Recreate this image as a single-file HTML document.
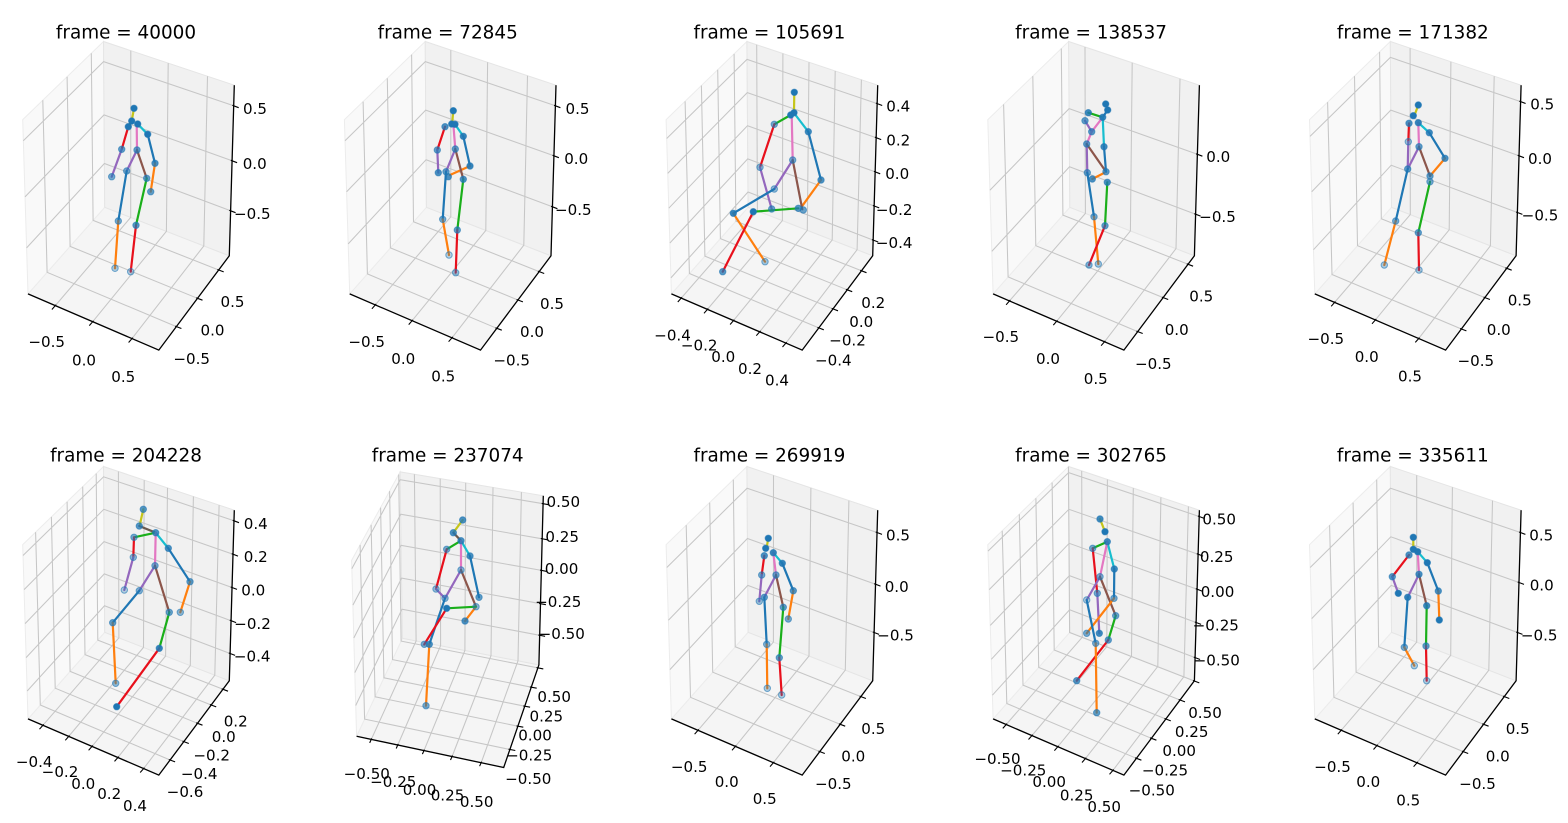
<!DOCTYPE html>
<html>
<head>
<meta charset="utf-8">
<style>
html,body{margin:0;padding:0;background:#fff;}
svg{display:block;}
.t{font-family:"DejaVu Sans","Liberation Sans",sans-serif;font-size:15.1px;fill:#000;text-anchor:middle;}
.ti{font-family:"DejaVu Sans","Liberation Sans",sans-serif;font-size:18.4px;fill:#000;text-anchor:middle;}
.sk path{fill:none;stroke-width:2.2;stroke-linecap:round;}
.mk circle{fill:#1f77b4;stroke:#1f77b4;stroke-width:1;stroke-opacity:0.6;}
.fl{fill:#f5f5f5;stroke:#ebebeb;stroke-width:1;}
.xp{fill:#f9f9f9;stroke:#ececec;stroke-width:1;}
.yp{fill:#f1f1f1;stroke:#e5e5e5;stroke-width:1;}
.gr{fill:none;stroke:#c6c6c6;stroke-width:1.05;}
.ax{fill:none;stroke:#000;stroke-width:1.3;stroke-linejoin:miter;}
.tk{fill:none;stroke:#000;stroke-width:1.1;}
</style>
</head>
<body>
<svg xmlns="http://www.w3.org/2000/svg" xmlns:xlink="http://www.w3.org/1999/xlink" width="1568" height="823" viewBox="0 0 1568 823">
<defs>
<g id="panes">
<polygon class="fl" points="-102.2,103.4 28.6,159.6 99.1,65.3 -25.5,16.8"/>
<polygon class="xp" points="-102.2,103.4 -25.5,16.8 -26.7,-149 -107.5,-70.8"/>
<polygon class="yp" points="-25.5,16.8 99.1,65.3 104.1,-105.3 -26.7,-149"/>
</g>
<path id="axl" class="ax" d="M-102.2 103.4L28.6 159.6L99.1 65.3L104.1 -105.3"/>
</defs>
<rect width="1568" height="823" fill="#fff"/>

<!-- panel 1 -->
<g transform="translate(130.2 190.5)">
<use href="#panes" xlink:href="#panes"/>
<path class="gr" d="M-74.9 115.1L0.5 26.9L0.6 -139.9M-37.5 131.2L36.2 40.8L38 -127.4M1.8 148.1L73.6 55.4L77.3 -114.3M46.2 136.1L-83.1 81.8L-87.4 -90.3M67.3 107.8L-60.1 55.9L-63.1 -113.7M88.5 79.5L-37.1 29.9L-38.9 -137.2M100.4 20.3L-25.8 -27L-103.6 57.4M101.9 -29.7L-26.2 -75.6L-105.2 6.4M103.5 -84.7L-26.6 -128.9L-106.9 -49.7"/>
<use href="#axl" xlink:href="#axl"/>
<path class="tk" d="M-74.9 115.1m0.8 -0.9l-4.2 4.8M-37.5 131.2m0.8 -0.9l-4.2 4.8M1.8 148.1m0.8 -0.9l-4.2 4.8M46.2 136.1m-1.3 -0.5l6.3 2.4M67.3 107.8m-1.3 -0.5l6.3 2.4M88.5 79.5m-1.3 -0.5l6.3 2.4M100.4 20.3m-1.3 -0.5l6.3 2.4M101.9 -29.7m-1.3 -0.5l6.3 2.4M103.5 -84.7m-1.3 -0.5l6.3 2.4"/>
</g>
<!-- panel 2 -->
<g transform="translate(451.9 190.5)">
<use href="#panes" xlink:href="#panes"/>
<path class="gr" d="M-76.6 114.4L-1.1 26.3L-1.1 -140.4M-39.8 130.2L33.9 39.9L35.7 -128.2M0.1 147.3L71.9 54.7L75.6 -114.8M44.9 137.8L-84.5 83.4L-88.8 -88.9M66 109.5L-61.5 57.4L-64.6 -112.3M87.3 81.1L-38.4 31.3L-40.3 -135.9M100.5 16.3L-25.8 -30.8L-103.7 53.4M102 -34.7L-26.2 -80.4L-105.3 1.3M103.5 -84.7L-26.6 -128.9L-106.9 -49.7"/>
<use href="#axl" xlink:href="#axl"/>
<path class="tk" d="M-76.6 114.4m0.8 -0.9l-4.2 4.8M-39.8 130.2m0.8 -0.9l-4.2 4.8M0.1 147.3m0.8 -0.9l-4.2 4.8M44.9 137.8m-1.3 -0.5l6.3 2.4M66 109.5m-1.3 -0.5l6.3 2.4M87.3 81.1m-1.3 -0.5l6.3 2.4M100.5 16.3m-1.3 -0.5l6.3 2.4M102 -34.7m-1.3 -0.5l6.3 2.4M103.5 -84.7m-1.3 -0.5l6.3 2.4"/>
</g>
<!-- panel 3 -->
<g transform="translate(773.6 190.5)">
<use href="#panes" xlink:href="#panes"/>
<path class="gr" d="M-92.4 107.6L-16.2 20.4L-16.9 -145.7M-66.2 118.9L8.8 30.1L9.3 -137M-40.1 130.1L33.7 39.8L35.4 -128.2M-13.9 141.3L58.6 49.5L61.6 -119.5M12.3 152.6L83.5 59.2L87.8 -110.8M45.2 137.4L-84.2 83L-88.5 -89.2M59.4 118.4L-68.7 65.6L-72.2 -105M73.6 99.3L-53.2 48.1L-55.9 -120.8M87.9 80.3L-37.7 30.6L-39.5 -136.6M99.6 49.6L-25.6 1.5L-102.7 87.4M100.6 15.5L-25.9 -31.6L-103.7 52.5M101.6 -18.6L-26.1 -64.8L-104.8 17.7M102.6 -52.8L-26.3 -97.9L-105.9 -17.1M103.6 -86.9L-26.6 -131.1L-106.9 -52"/>
<use href="#axl" xlink:href="#axl"/>
<path class="tk" d="M-92.4 107.6m0.8 -0.9l-4.2 4.8M-66.2 118.9m0.8 -0.9l-4.2 4.8M-40.1 130.1m0.8 -0.9l-4.2 4.8M-13.9 141.3m0.8 -0.9l-4.2 4.8M12.3 152.6m0.8 -0.9l-4.2 4.8M45.2 137.4m-1.3 -0.5l6.3 2.4M59.4 118.4m-1.3 -0.5l6.3 2.4M73.6 99.3m-1.3 -0.5l6.3 2.4M87.9 80.3m-1.3 -0.5l6.3 2.4M99.6 49.6m-1.3 -0.5l6.3 2.4M100.6 15.5m-1.3 -0.5l6.3 2.4M101.6 -18.6m-1.3 -0.5l6.3 2.4M102.6 -52.8m-1.3 -0.5l6.3 2.4M103.6 -86.9m-1.3 -0.5l6.3 2.4"/>
</g>
<!-- panel 4 -->
<g transform="translate(1095.3 190.5)">
<use href="#panes" xlink:href="#panes"/>
<path class="gr" d="M-85.8 110.4L-9.9 22.9L-10.3 -143.5M-38.6 130.7L35.1 40.4L36.9 -127.8M9.2 151.3L80.7 58.1L84.7 -111.8M42.4 141.1L-87.2 86.4L-91.7 -86.1M67.9 107.1L-59.5 55.2L-62.5 -114.4M92.8 73.8L-32.4 24.6L-34 -142M100.3 23.7L-25.8 -23.7L-103.5 60.9M102.1 -36.2L-26.2 -81.9L-105.4 -0.2"/>
<use href="#axl" xlink:href="#axl"/>
<path class="tk" d="M-85.8 110.4m0.8 -0.9l-4.2 4.8M-38.6 130.7m0.8 -0.9l-4.2 4.8M9.2 151.3m0.8 -0.9l-4.2 4.8M42.4 141.1m-1.3 -0.5l6.3 2.4M67.9 107.1m-1.3 -0.5l6.3 2.4M92.8 73.8m-1.3 -0.5l6.3 2.4M100.3 23.7m-1.3 -0.5l6.3 2.4M102.1 -36.2m-1.3 -0.5l6.3 2.4"/>
</g>
<!-- panel 5 -->
<g transform="translate(1417 190.5)">
<use href="#panes" xlink:href="#panes"/>
<path class="gr" d="M-82.4 111.9L-6.7 24.1L-6.9 -142.4M-41.6 129.4L32.2 39.3L33.9 -128.8M1.7 148L73.4 55.3L77.2 -114.3M44.4 138.5L-85 84L-89.4 -88.3M67.9 107.1L-59.5 55.2L-62.5 -114.4M89.7 77.8L-35.7 28.3L-37.4 -138.6M100.4 22L-25.8 -25.3L-103.5 59.2M102 -34.7L-26.2 -80.4L-105.3 1.3M103.6 -88.9L-26.6 -133.1L-107 -54.1"/>
<use href="#axl" xlink:href="#axl"/>
<path class="tk" d="M-82.4 111.9m0.8 -0.9l-4.2 4.8M-41.6 129.4m0.8 -0.9l-4.2 4.8M1.7 148m0.8 -0.9l-4.2 4.8M44.4 138.5m-1.3 -0.5l6.3 2.4M67.9 107.1m-1.3 -0.5l6.3 2.4M89.7 77.8m-1.3 -0.5l6.3 2.4M100.4 22m-1.3 -0.5l6.3 2.4M102 -34.7m-1.3 -0.5l6.3 2.4M103.6 -88.9m-1.3 -0.5l6.3 2.4"/>
</g>
<!-- panel 6 -->
<g transform="translate(130.2 615.5)">
<use href="#panes" xlink:href="#panes"/>
<path class="gr" d="M-87.3 109.8L-11.3 22.3L-11.8 -144M-61.5 120.9L13.3 31.9L14 -135.4M-38.2 130.9L35.4 40.5L37.3 -127.6M-12.3 142L60.1 50.1L63.2 -119M13.4 153.1L84.6 59.7L88.9 -110.4M39.9 144.5L-89.9 89.5L-94.6 -83.3M53.6 126.1L-75 72.7L-78.8 -98.6M67.3 107.8L-60.1 55.9L-63.1 -113.7M81 89.5L-45.2 39.1L-47.5 -128.9M92.8 73.8L-32.4 24.6L-34 -142M99.9 38L-25.7 -9.7L-103 75.5M100.9 5.2L-25.9 -41.6L-104.1 42.1M101.8 -28L-26.2 -73.9L-105.1 8.1M102.8 -61.3L-26.4 -106.2L-106.1 -25.9M103.8 -94.7L-26.6 -138.7L-107.2 -60"/>
<use href="#axl" xlink:href="#axl"/>
<path class="tk" d="M-87.3 109.8m0.8 -0.9l-4.2 4.8M-61.5 120.9m0.8 -0.9l-4.2 4.8M-38.2 130.9m0.8 -0.9l-4.2 4.8M-12.3 142m0.8 -0.9l-4.2 4.8M13.4 153.1m0.8 -0.9l-4.2 4.8M39.9 144.5m-1.3 -0.5l6.3 2.4M53.6 126.1m-1.3 -0.5l6.3 2.4M67.3 107.8m-1.3 -0.5l6.3 2.4M81 89.5m-1.3 -0.5l6.3 2.4M92.8 73.8m-1.3 -0.5l6.3 2.4M99.9 38m-1.3 -0.5l6.3 2.4M100.9 5.2m-1.3 -0.5l6.3 2.4M101.8 -28m-1.3 -0.5l6.3 2.4M102.8 -61.3m-1.3 -0.5l6.3 2.4M103.8 -94.7m-1.3 -0.5l6.3 2.4"/>
</g>
<!-- panel 7 (rotated view) -->
<g transform="translate(450.4 615.5)">
<polygon class="fl" points="-93.8,120.8 53.3,152 88.5,49.4 -48,22.8"/>
<polygon class="xp" points="-93.8,120.8 -48,22.8 -50.3,-143.6 -98.8,-55.1"/>
<polygon class="yp" points="-48,22.8 88.5,49.4 92.9,-119.7 -50.3,-143.6"/>
<path class="gr" d="M-79.1 123.9L-34.3 25.5L-36 -141.2M-52.6 129.5L-9.8 30.2L-10.2 -136.9M-26.4 135.1L14.5 35L15.3 -132.7M1.7 141L40.6 40.1L42.6 -128.1M30.8 147.2L67.6 45.3L71 -123.4M59.5 134L-85.8 103.6L-90.3 -70.6M67.5 110.7L-75.3 81.3L-79.3 -90.8M74.3 90.7L-66.5 62.3L-69.8 -107.9M80.9 71.7L-57.9 44.1L-60.8 -124.4M87.5 52.4L-49.3 25.6L-51.7 -141M89.3 19.8L-48.4 -6.3L-94.7 90M90.1 -11.8L-48.8 -37.4L-95.6 57.1M91 -45.1L-49.3 -70.2L-96.6 22.5M91.8 -76.7L-49.7 -101.3L-97.5 -10.4M92.7 -111.8L-50.2 -135.8L-98.6 -46.8"/>
<path class="ax" d="M-93.8 120.8L53.3 152L88.5 49.4L92.9 -119.7"/>
<path class="tk" d="M-79.1 123.9m0.4 -1l-2 4.5M-52.6 129.5m0.4 -1l-2 4.5M-26.4 135.1m0.4 -1l-2 4.5M1.7 141m0.4 -1l-2 4.5M30.8 147.2m0.4 -1l-2 4.5M59.5 134m-1.4 -0.3l6.8 1.3M67.5 110.7m-1.4 -0.3l6.8 1.3M74.3 90.7m-1.4 -0.3l6.8 1.3M80.9 71.7m-1.4 -0.3l6.8 1.3M87.5 52.4m-1.4 -0.3l6.8 1.3M89.3 19.8m-1.4 -0.3l6.8 1.3M90.1 -11.8m-1.4 -0.3l6.8 1.3M91 -45.1m-1.4 -0.3l6.8 1.3M91.8 -76.7m-1.4 -0.3l6.8 1.3M92.7 -111.8m-1.4 -0.3l6.8 1.3"/>
</g>
<!-- panel 8 -->
<g transform="translate(773.6 615.5)">
<use href="#panes" xlink:href="#panes"/>
<path class="gr" d="M-75.6 114.8L-0.2 26.6L-0.1 -140.1M-38.2 130.9L35.4 40.5L37.3 -127.6M-0.2 147.2L71.7 54.6L75.3 -114.9M46.2 136.1L-83.1 81.8L-87.4 -90.3M66.6 108.8L-60.9 56.7L-63.9 -112.9M87.3 81.1L-38.4 31.3L-40.3 -135.9M100.5 17L-25.8 -30.1L-103.7 54.1M101.9 -31.3L-26.2 -77L-105.2 4.8M103.4 -83L-26.5 -127.3L-106.8 -48"/>
<use href="#axl" xlink:href="#axl"/>
<path class="tk" d="M-75.6 114.8m0.8 -0.9l-4.2 4.8M-38.2 130.9m0.8 -0.9l-4.2 4.8M-0.2 147.2m0.8 -0.9l-4.2 4.8M46.2 136.1m-1.3 -0.5l6.3 2.4M66.6 108.8m-1.3 -0.5l6.3 2.4M87.3 81.1m-1.3 -0.5l6.3 2.4M100.5 17m-1.3 -0.5l6.3 2.4M101.9 -31.3m-1.3 -0.5l6.3 2.4M103.4 -83m-1.3 -0.5l6.3 2.4"/>
</g>
<!-- panel 9 -->
<g transform="translate(1095.3 615.5)">
<use href="#panes" xlink:href="#panes"/>
<path class="gr" d="M-89.1 109L-13 21.7L-13.6 -144.6M-63.4 120.1L11.5 31.2L12.1 -136M-37.5 131.2L36.2 40.8L38 -127.4M-9.9 143.1L62.5 51L65.6 -118.1M17.6 154.9L88.6 61.2L93.1 -109M41.1 142.8L-88.5 88L-93.1 -84.7M56.1 122.8L-72.3 69.6L-76 -101.3M70.5 103.5L-56.6 51.9L-59.4 -117.3M84.7 84.5L-41.1 34.5L-43.2 -133M99 65.5L-25.7 17L-26.9 -148.8M99.8 42.1L-25.7 -5.7L-102.9 79.7M100.8 7L-25.9 -39.9L-104 43.8M101.8 -26.3L-26.1 -72.2L-105 9.9M102.8 -61.3L-26.4 -106.2L-106.1 -25.9M103.9 -99L-26.7 -142.9L-107.3 -64.4"/>
<use href="#axl" xlink:href="#axl"/>
<path class="tk" d="M-89.1 109m0.8 -0.9l-4.2 4.8M-63.4 120.1m0.8 -0.9l-4.2 4.8M-37.5 131.2m0.8 -0.9l-4.2 4.8M-9.9 143.1m0.8 -0.9l-4.2 4.8M17.6 154.9m0.8 -0.9l-4.2 4.8M41.1 142.8m-1.3 -0.5l6.3 2.4M56.1 122.8m-1.3 -0.5l6.3 2.4M70.5 103.5m-1.3 -0.5l6.3 2.4M84.7 84.5m-1.3 -0.5l6.3 2.4M99 65.5m-1.3 -0.5l6.3 2.4M99.8 42.1m-1.3 -0.5l6.3 2.4M100.8 7m-1.3 -0.5l6.3 2.4M101.8 -26.3m-1.3 -0.5l6.3 2.4M102.8 -61.3m-1.3 -0.5l6.3 2.4M103.9 -99m-1.3 -0.5l6.3 2.4"/>
</g>
<!-- panel 10 -->
<g transform="translate(1417 615.5)">
<use href="#panes" xlink:href="#panes"/>
<path class="gr" d="M-75.8 114.8L-0.3 26.6L-0.3 -140.2M-40.1 130.1L33.7 39.8L35.4 -128.2M0 147.3L71.8 54.7L75.5 -114.9M46.2 136.1L-83.1 81.8L-87.4 -90.3M66.6 108.8L-60.9 56.7L-63.9 -112.9M87.3 81.1L-38.4 31.3L-40.3 -135.9M100.5 17L-25.8 -30.1L-103.7 54.1M102 -33L-26.2 -78.7L-105.3 3.1M103.4 -83L-26.5 -127.3L-106.8 -48"/>
<use href="#axl" xlink:href="#axl"/>
<path class="tk" d="M-75.8 114.8m0.8 -0.9l-4.2 4.8M-40.1 130.1m0.8 -0.9l-4.2 4.8M0 147.3m0.8 -0.9l-4.2 4.8M46.2 136.1m-1.3 -0.5l6.3 2.4M66.6 108.8m-1.3 -0.5l6.3 2.4M87.3 81.1m-1.3 -0.5l6.3 2.4M100.5 17m-1.3 -0.5l6.3 2.4M102 -33m-1.3 -0.5l6.3 2.4M103.4 -83m-1.3 -0.5l6.3 2.4"/>
</g>

<!-- titles -->
<text class="ti" x="126" y="38.4">frame = 40000</text>
<text class="ti" x="447.7" y="38.4">frame = 72845</text>
<text class="ti" x="769.4" y="38.4">frame = 105691</text>
<text class="ti" x="1091.1" y="38.4">frame = 138537</text>
<text class="ti" x="1412.8" y="38.4">frame = 171382</text>
<text class="ti" x="126" y="461.7">frame = 204228</text>
<text class="ti" x="447.7" y="461.7">frame = 237074</text>
<text class="ti" x="769.4" y="461.7">frame = 269919</text>
<text class="ti" x="1091.1" y="461.7">frame = 302765</text>
<text class="ti" x="1412.8" y="461.7">frame = 335611</text>

<!-- tick labels -->
<g>
<text class="t" x="46.7" y="347.2">−0.5</text><text class="t" x="84" y="365.5">0.0</text><text class="t" x="123.3" y="382.2">0.5</text>
<text class="t" x="191.7" y="363.8">−0.5</text><text class="t" x="212.5" y="335.5">0.0</text><text class="t" x="232.5" y="307.2">0.5</text>
<text class="t" x="252.3" y="218.8">−0.5</text><text class="t" x="254.7" y="168.8">0.0</text><text class="t" x="255" y="113.8">0.5</text>
</g>
<g>
<text class="t" x="366.7" y="347.2">−0.5</text><text class="t" x="403.3" y="363.8">0.0</text><text class="t" x="443.3" y="381.5">0.5</text>
<text class="t" x="511.7" y="365.5">−0.5</text><text class="t" x="532" y="337.2">0.0</text><text class="t" x="552" y="308.8">0.5</text>
<text class="t" x="573.3" y="214.8">−0.5</text><text class="t" x="576.2" y="163.8">0.0</text><text class="t" x="577.5" y="113.8">0.5</text>
</g>
<g>
<text class="t" x="672.5" y="340.5">−0.4</text><text class="t" x="699.2" y="350.5">−0.2</text><text class="t" x="723.3" y="362.2">0.0</text><text class="t" x="750" y="373.8">0.2</text><text class="t" x="777" y="385.5">0.4</text>
<text class="t" x="833.3" y="365.5">−0.4</text><text class="t" x="847.5" y="345.5">−0.2</text><text class="t" x="861.3" y="327.2">0.0</text><text class="t" x="873.3" y="308.2">0.2</text>
<text class="t" x="894.2" y="248.2">−0.4</text><text class="t" x="894.2" y="214.8">−0.2</text><text class="t" x="897.2" y="178.8">0.0</text><text class="t" x="898.3" y="145.5">0.2</text><text class="t" x="898.3" y="111.5">0.4</text>
</g>
<g>
<text class="t" x="1000.8" y="342.2">−0.5</text><text class="t" x="1048" y="363.8">0.0</text><text class="t" x="1095.8" y="383.8">0.5</text>
<text class="t" x="1153.3" y="368.8">−0.5</text><text class="t" x="1176.7" y="334.8">0.0</text><text class="t" x="1201.3" y="301.5">0.5</text>
<text class="t" x="1217.5" y="222.2">−0.5</text><text class="t" x="1218.3" y="162.2">0.0</text>
</g>
<g>
<text class="t" x="1325.8" y="343.8">−0.5</text><text class="t" x="1366.7" y="362.2">0.0</text><text class="t" x="1410" y="381.5">0.5</text>
<text class="t" x="1475.8" y="366.2">−0.5</text><text class="t" x="1498.8" y="334.8">0.0</text><text class="t" x="1519.7" y="305.5">0.5</text>
<text class="t" x="1540" y="220.5">−0.5</text><text class="t" x="1540" y="163.8">0.0</text><text class="t" x="1542.2" y="109.5">0.5</text>
</g>
<g>
<text class="t" x="34.2" y="767.2">−0.4</text><text class="t" x="60" y="777.2">−0.2</text><text class="t" x="83.3" y="788.8">0.0</text><text class="t" x="109.2" y="798.8">0.2</text><text class="t" x="135" y="811.2">0.4</text>
<text class="t" x="185" y="797.2">−0.6</text><text class="t" x="199.2" y="778.8">−0.4</text><text class="t" x="211.7" y="760.5">−0.2</text><text class="t" x="223.8" y="742.2">0.0</text><text class="t" x="235.7" y="726.5">0.2</text>
<text class="t" x="252.2" y="661.5">−0.4</text><text class="t" x="252.5" y="628.8">−0.2</text><text class="t" x="253.3" y="595.5">0.0</text><text class="t" x="255.8" y="562.2">0.2</text><text class="t" x="255.8" y="528.8">0.4</text>
</g>
<g>
<text class="t" x="366.8" y="778.8">−0.50</text><text class="t" x="393.3" y="787.2">−0.25</text><text class="t" x="419.5" y="794.8">0.00</text><text class="t" x="447.5" y="800.5">0.25</text><text class="t" x="476.7" y="807.2">0.50</text>
<text class="t" x="528.3" y="783.8">−0.50</text><text class="t" x="529.2" y="760.5">−0.25</text><text class="t" x="535" y="740.5">0.00</text><text class="t" x="546.3" y="721.5">0.25</text><text class="t" x="554.2" y="702.2">0.50</text>
<text class="t" x="561.7" y="638.8">−0.50</text><text class="t" x="558.3" y="607.2">−0.25</text><text class="t" x="561.5" y="573.8">0.00</text><text class="t" x="562.2" y="542.2">0.25</text><text class="t" x="563.3" y="507.2">0.50</text>
</g>
<g>
<text class="t" x="689.2" y="772.2">−0.5</text><text class="t" x="726.7" y="787.2">0.0</text><text class="t" x="764.7" y="803.8">0.5</text>
<text class="t" x="833.3" y="788.8">−0.5</text><text class="t" x="853.3" y="761.5">0.0</text><text class="t" x="873.3" y="733.8">0.5</text>
<text class="t" x="895.5" y="640.5">−0.5</text><text class="t" x="896.7" y="592.2">0.0</text><text class="t" x="898" y="540.5">0.5</text>
</g>
<g>
<text class="t" x="997.5" y="763.8">−0.50</text><text class="t" x="1023.3" y="775.5">−0.25</text><text class="t" x="1049.2" y="787.2">0.00</text><text class="t" x="1076.7" y="800.5">0.25</text><text class="t" x="1104.2" y="812.2">0.50</text>
<text class="t" x="1151.7" y="795.5">−0.50</text><text class="t" x="1165" y="775.5">−0.25</text><text class="t" x="1179.2" y="756.2">0.00</text><text class="t" x="1191.7" y="737.2">0.25</text><text class="t" x="1205" y="718.2">0.50</text>
<text class="t" x="1216.7" y="665.5">−0.50</text><text class="t" x="1215.8" y="630.5">−0.25</text><text class="t" x="1217.5" y="597.2">0.00</text><text class="t" x="1216.7" y="562.2">0.25</text><text class="t" x="1219.2" y="524.5">0.50</text>
</g>
<g>
<text class="t" x="1332.5" y="772.2">−0.5</text><text class="t" x="1368.3" y="787.2">0.0</text><text class="t" x="1408.3" y="805.5">0.5</text>
<text class="t" x="1477.5" y="788.8">−0.5</text><text class="t" x="1497.8" y="761.5">0.0</text><text class="t" x="1517.7" y="733.8">0.5</text>
<text class="t" x="1539.2" y="640.5">−0.5</text><text class="t" x="1541.7" y="590.5">0.0</text><text class="t" x="1541.3" y="540.5">0.5</text>
</g>

<!-- skeletons -->
<g class="sk">
<path stroke="#c5c51a" d="M134 108.3L131.7 121"/>
<path stroke="#1aaf1a" d="M131.7 121L128.3 126.7"/>
<path stroke="#17becf" d="M137.7 124L147.7 134.3"/>
<path stroke="#e8101c" d="M128.3 126.7L121.7 149.3"/>
<path stroke="#e377c2" d="M136.7 124L137 150"/>
<path stroke="#1f77b4" d="M147.7 134.3L155 163.3"/>
<path stroke="#ff7f0e" d="M155 163.3L150.7 191.7"/>
<path stroke="#9467bd" d="M121.7 149.3L111.7 176.7"/>
<path stroke="#9467bd" d="M137 150L126.7 171"/>
<path stroke="#8c564b" d="M137 150L146.7 178.3"/>
<path stroke="#1f77b4" d="M126.7 171L118.3 221"/>
<path stroke="#1aaf1a" d="M146.7 178.3L136 225.3"/>
<path stroke="#ff7f0e" d="M118.3 221L115 268.3"/>
<path stroke="#e8101c" d="M136 225.3L130.7 271.7"/>

<path stroke="#c5c51a" d="M453.3 110.7L452.3 122"/>
<path stroke="#e8101c" d="M445 126.7L437.3 150"/>
<path stroke="#e377c2" d="M453.3 124L455.3 149"/>
<path stroke="#17becf" d="M455 124.3L463.3 136.3"/>
<path stroke="#1f77b4" d="M463.3 136.3L470 166"/>
<path stroke="#ff7f0e" d="M470 166L450 175"/>
<path stroke="#9467bd" d="M437.3 150L438.3 172.7"/>
<path stroke="#9467bd" d="M455.3 149L446 171.7"/>
<path stroke="#8c564b" d="M455.3 149L463.3 179.3"/>
<path stroke="#1f77b4" d="M446 171.7L442.7 219.3"/>
<path stroke="#1aaf1a" d="M463.3 179.3L457.3 230"/>
<path stroke="#ff7f0e" d="M442.7 219.3L449 255"/>
<path stroke="#e8101c" d="M457.3 230L455.7 272.7"/>

<path stroke="#c5c51a" d="M794.3 92.3L794 112"/>
<path stroke="#1aaf1a" d="M790.7 115L774.3 124.3"/>
<path stroke="#17becf" d="M794 113L808.3 131.7"/>
<path stroke="#e377c2" d="M791.7 115L792.7 160"/>
<path stroke="#e8101c" d="M774.3 124.3L760 167.3"/>
<path stroke="#1f77b4" d="M808.3 131.7L821 180"/>
<path stroke="#ff7f0e" d="M821 180L801.7 206.7"/>
<path stroke="#9467bd" d="M760 167.3L771.7 209"/>
<path stroke="#9467bd" d="M792.7 160L774.3 189"/>
<path stroke="#8c564b" d="M792.7 160L802.3 209.3"/>
<path stroke="#1f77b4" d="M774.3 189L733.3 213.3"/>
<path stroke="#1aaf1a" d="M753.3 211.7L798.3 208.3"/>
<path stroke="#ff7f0e" d="M733.3 213.3L765 261.7"/>
<path stroke="#e8101c" d="M753.3 211.7L722.7 271.7"/>

<path stroke="#1aaf1a" d="M1088.3 112.7L1102.7 117.3"/>
<path stroke="#1f77b4" d="M1107.7 110L1102.7 117.3"/>
<path stroke="#e377c2" d="M1102.7 117.3L1091.7 131.7"/>
<path stroke="#9467bd" d="M1085 120.7L1091.7 131.7"/>
<path stroke="#e377c2" d="M1091.7 131.7L1086.7 144"/>
<path stroke="#17becf" d="M1102.7 117.3L1104 146.7"/>
<path stroke="#9467bd" d="M1086.7 144L1087.3 172.7"/>
<path stroke="#8c564b" d="M1086.7 144L1106 171.7"/>
<path stroke="#1f77b4" d="M1104 146.7L1106 171.7"/>
<path stroke="#ff7f0e" d="M1104 173L1092.3 179"/>
<path stroke="#1f77b4" d="M1087.3 172.7L1094 216.7"/>
<path stroke="#1aaf1a" d="M1107.3 182.3L1105 225.7"/>
<path stroke="#ff7f0e" d="M1094 216.7L1098.3 264"/>
<path stroke="#e8101c" d="M1105 225.7L1089 265"/>

<path stroke="#c5c51a" d="M1418.3 105L1415 114"/>
<path stroke="#17becf" d="M1418.3 122.7L1429.3 132.7"/>
<path stroke="#e8101c" d="M1409 123.3L1408.3 141.7"/>
<path stroke="#e377c2" d="M1418.3 122.7L1419 146.7"/>
<path stroke="#1f77b4" d="M1429.3 132.7L1445 158.3"/>
<path stroke="#ff7f0e" d="M1445 158.3L1430 176"/>
<path stroke="#9467bd" d="M1408.3 141.7L1407.7 169"/>
<path stroke="#9467bd" d="M1419 146.7L1407.7 169"/>
<path stroke="#8c564b" d="M1419 146.7L1430 176"/>
<path stroke="#1f77b4" d="M1407.7 169L1395.7 221"/>
<path stroke="#1aaf1a" d="M1430 181.7L1418.3 232.7"/>
<path stroke="#ff7f0e" d="M1395.7 221L1384.3 265"/>
<path stroke="#e8101c" d="M1418.3 232.7L1419 270"/>

<path stroke="#c5c51a" d="M143.3 509.3L140 524"/>
<path stroke="#6b5a50" d="M139.3 526L155.7 532.7"/>
<path stroke="#1aaf1a" d="M134 537.3L155.7 532.7"/>
<path stroke="#17becf" d="M155.7 532.7L168.3 548.3"/>
<path stroke="#e8101c" d="M134 537.3L133.3 557.3"/>
<path stroke="#e377c2" d="M155.7 532.7L155 565.7"/>
<path stroke="#1f77b4" d="M168.3 548.3L190 581.7"/>
<path stroke="#ff7f0e" d="M190 581.7L180.3 612.3"/>
<path stroke="#9467bd" d="M133.3 557.3L124.3 590"/>
<path stroke="#9467bd" d="M155 565.7L139.3 590.7"/>
<path stroke="#8c564b" d="M155 565.7L169.3 612.3"/>
<path stroke="#1f77b4" d="M139.3 590.7L112.7 622.7"/>
<path stroke="#1aaf1a" d="M169.3 612.3L159.3 648.3"/>
<path stroke="#ff7f0e" d="M112.7 622.7L115.7 683.3"/>
<path stroke="#e8101c" d="M159.3 648.3L116.7 706.7"/>

<path stroke="#c5c51a" d="M462.7 520L454 531.7"/>
<path stroke="#6b5a50" d="M453.3 532.7L461 540.7"/>
<path stroke="#1aaf1a" d="M446.7 549.3L461 540.7"/>
<path stroke="#17becf" d="M461 540.7L470 556"/>
<path stroke="#e377c2" d="M461 540.7L461 570"/>
<path stroke="#e8101c" d="M446.7 549.3L436 589"/>
<path stroke="#1f77b4" d="M470 556L479 597.3"/>
<path stroke="#9467bd" d="M461 570L445 598.3"/>
<path stroke="#8c564b" d="M461 570L476 606.7"/>
<path stroke="#ff7f0e" d="M476 606.7L465 621"/>
<path stroke="#1aaf1a" d="M446.7 608.3L476 606.7"/>
<path stroke="#9467bd" d="M436 589L445 598.3"/>
<path stroke="#1f77b4" d="M445 598.3L429.3 644.3"/>
<path stroke="#e8101c" d="M446.7 608.3L424.3 644.3"/>
<path stroke="#ff7f0e" d="M429.3 644.3L426 705.7"/>

<path stroke="#c5c51a" d="M768.3 538.3L766.7 547.3"/>
<path stroke="#17becf" d="M773.3 552.7L782.3 563.3"/>
<path stroke="#e8101c" d="M764.3 555.7L761.7 575"/>
<path stroke="#e377c2" d="M773.3 552.7L776 575"/>
<path stroke="#1f77b4" d="M782.3 563.3L793.3 590.7"/>
<path stroke="#ff7f0e" d="M793.3 590.7L788.3 619"/>
<path stroke="#9467bd" d="M761.7 575L759.3 601.3"/>
<path stroke="#9467bd" d="M776 575L764.3 597.3"/>
<path stroke="#8c564b" d="M776 575L783.3 607.3"/>
<path stroke="#1f77b4" d="M764.3 597.3L766.7 644.3"/>
<path stroke="#1aaf1a" d="M783.3 607.3L779.3 657.7"/>
<path stroke="#ff7f0e" d="M766.7 644.3L767.3 688.3"/>
<path stroke="#e8101c" d="M779.3 657.7L781.7 695"/>

<path stroke="#c5c51a" d="M1100 519L1105 531.7"/>
<path stroke="#1aaf1a" d="M1092.7 548.3L1107.3 541.7"/>
<path stroke="#17becf" d="M1107.3 541.7L1114.3 569"/>
<path stroke="#e377c2" d="M1107.3 541.7L1100 576.7"/>
<path stroke="#e8101c" d="M1092.7 548.3L1097.3 593.3"/>
<path stroke="#1f77b4" d="M1114.3 569L1114 598.3"/>
<path stroke="#9467bd" d="M1100 576.7L1086.7 600"/>
<path stroke="#9467bd" d="M1097.3 593.3L1099.3 633.3"/>
<path stroke="#8c564b" d="M1100 576.7L1115.7 615.7"/>
<path stroke="#ff7f0e" d="M1114 598.3L1086.7 633.3"/>
<path stroke="#1aaf1a" d="M1115.7 615.7L1108.3 640"/>
<path stroke="#1f77b4" d="M1086.7 600L1095.7 643.3"/>
<path stroke="#e8101c" d="M1108.3 640L1076.7 680.7"/>
<path stroke="#ff7f0e" d="M1095.7 643.3L1096.7 712.7"/>

<path stroke="#c5c51a" d="M1413.3 537.3L1413.3 548"/>
<path stroke="#17becf" d="M1417.7 551.7L1427.3 562.7"/>
<path stroke="#e8101c" d="M1409 555L1392.3 576.7"/>
<path stroke="#e377c2" d="M1417.7 551.7L1419 574.3"/>
<path stroke="#1f77b4" d="M1427.3 562.7L1438.3 591"/>
<path stroke="#ff7f0e" d="M1438.3 591L1439.3 620"/>
<path stroke="#9467bd" d="M1392.3 576.7L1398.3 593.3"/>
<path stroke="#9467bd" d="M1419 574.3L1407.7 597.3"/>
<path stroke="#8c564b" d="M1419 574.3L1426.7 605.7"/>
<path stroke="#1f77b4" d="M1407.7 597.3L1404.3 647.3"/>
<path stroke="#1aaf1a" d="M1426.7 605.7L1426 646"/>
<path stroke="#ff7f0e" d="M1404.3 647.3L1414.3 665.7"/>
<path stroke="#e8101c" d="M1426 646L1426.7 680.7"/>
</g>

<!-- joint markers -->
<g class="mk">
<circle cx="134" cy="108.3" r="3.2" fill-opacity="1"/><circle cx="131.7" cy="121" r="3.2" fill-opacity="1"/><circle cx="137.7" cy="124" r="3.2" fill-opacity="1"/><circle cx="128.3" cy="126.7" r="3.2" fill-opacity="1"/><circle cx="147.7" cy="134.3" r="3.2" fill-opacity="1"/><circle cx="121.7" cy="149.3" r="3.2" fill-opacity=".7"/><circle cx="137" cy="150" r="3.2" fill-opacity=".7"/><circle cx="155" cy="163.3" r="3.2" fill-opacity=".8"/><circle cx="111.7" cy="176.7" r="3.2" fill-opacity=".6"/><circle cx="126.7" cy="171" r="3.2" fill-opacity=".6"/><circle cx="146.7" cy="178.3" r="3.2" fill-opacity=".7"/><circle cx="150.7" cy="191.7" r="3.2" fill-opacity=".7"/><circle cx="118.3" cy="221" r="3.2" fill-opacity=".6"/><circle cx="136" cy="225.3" r="3.2" fill-opacity=".75"/><circle cx="115" cy="268.3" r="3.2" fill-opacity=".35"/><circle cx="130.7" cy="271.7" r="3.2" fill-opacity=".35"/>
<circle cx="453.3" cy="110.7" r="3.2" fill-opacity="1"/><circle cx="451.7" cy="124" r="3.2" fill-opacity="1"/><circle cx="455" cy="124.3" r="3.2" fill-opacity="1"/><circle cx="445" cy="126.7" r="3.2" fill-opacity=".8"/><circle cx="463.3" cy="136.3" r="3.2" fill-opacity=".9"/><circle cx="437.3" cy="150" r="3.2" fill-opacity=".7"/><circle cx="455.3" cy="149" r="3.2" fill-opacity=".7"/><circle cx="470" cy="166" r="3.2" fill-opacity=".9"/><circle cx="438.3" cy="172.7" r="3.2" fill-opacity=".8"/><circle cx="446" cy="171.7" r="3.2" fill-opacity=".7"/><circle cx="448.3" cy="176.7" r="3.2" fill-opacity=".8"/><circle cx="463.3" cy="179.3" r="3.2" fill-opacity=".8"/><circle cx="442.7" cy="219.3" r="3.2" fill-opacity=".6"/><circle cx="457.3" cy="230" r="3.2" fill-opacity=".7"/><circle cx="449" cy="255" r="3.2" fill-opacity=".3"/><circle cx="455.7" cy="272.7" r="3.2" fill-opacity=".45"/>
<circle cx="794.3" cy="92.3" r="3.2" fill-opacity="1"/><circle cx="794" cy="112.7" r="3.2" fill-opacity="1"/><circle cx="790.7" cy="115" r="3.2" fill-opacity="1"/><circle cx="774.3" cy="124.3" r="3.2" fill-opacity=".6"/><circle cx="808.3" cy="131.7" r="3.2" fill-opacity=".85"/><circle cx="792.7" cy="160" r="3.2" fill-opacity=".6"/><circle cx="760" cy="167.3" r="3.2" fill-opacity=".5"/><circle cx="821" cy="180" r="3.2" fill-opacity=".8"/><circle cx="774.3" cy="189" r="3.2" fill-opacity=".45"/><circle cx="771.7" cy="209" r="3.2" fill-opacity=".65"/><circle cx="798.3" cy="208.3" r="3.2" fill-opacity=".75"/><circle cx="803.3" cy="210" r="3.2" fill-opacity=".65"/><circle cx="733.3" cy="213.3" r="3.2" fill-opacity=".9"/><circle cx="753.3" cy="211.7" r="3.2" fill-opacity="1"/><circle cx="765" cy="261.7" r="3.2" fill-opacity=".4"/><circle cx="722.7" cy="271.7" r="3.2" fill-opacity=".75"/>
<circle cx="1105.7" cy="104" r="3.2" fill-opacity="1"/><circle cx="1107.7" cy="110" r="3.2" fill-opacity="1"/><circle cx="1088.3" cy="112.7" r="3.2" fill-opacity=".85"/><circle cx="1102.7" cy="117.3" r="3.2" fill-opacity=".9"/><circle cx="1085" cy="120.7" r="3.2" fill-opacity=".7"/><circle cx="1091.7" cy="131.7" r="3.2" fill-opacity=".75"/><circle cx="1086.7" cy="144" r="3.2" fill-opacity=".7"/><circle cx="1104" cy="146.7" r="3.2" fill-opacity=".85"/><circle cx="1087.3" cy="172.7" r="3.2" fill-opacity=".65"/><circle cx="1106" cy="171.7" r="3.2" fill-opacity=".75"/><circle cx="1092.3" cy="179" r="3.2" fill-opacity=".8"/><circle cx="1107.3" cy="182.3" r="3.2" fill-opacity=".8"/><circle cx="1094" cy="216.7" r="3.2" fill-opacity=".6"/><circle cx="1105" cy="225.7" r="3.2" fill-opacity=".7"/><circle cx="1089" cy="265" r="3.2" fill-opacity=".55"/><circle cx="1098.3" cy="264" r="3.2" fill-opacity=".4"/>
<circle cx="1418.3" cy="105" r="3.2" fill-opacity="1"/><circle cx="1413.3" cy="115.7" r="3.2" fill-opacity="1"/><circle cx="1409" cy="123.3" r="3.2" fill-opacity=".8"/><circle cx="1418.3" cy="122.7" r="3.2" fill-opacity=".9"/><circle cx="1429.3" cy="132.7" r="3.2" fill-opacity=".85"/><circle cx="1408.3" cy="141.7" r="3.2" fill-opacity=".4"/><circle cx="1419" cy="146.7" r="3.2" fill-opacity=".7"/><circle cx="1445" cy="158.3" r="3.2" fill-opacity=".8"/><circle cx="1407.7" cy="169" r="3.2" fill-opacity=".7"/><circle cx="1430" cy="176" r="3.2" fill-opacity=".7"/><circle cx="1430" cy="181.7" r="3.2" fill-opacity=".6"/><circle cx="1395.7" cy="221" r="3.2" fill-opacity=".6"/><circle cx="1418.3" cy="232.7" r="3.2" fill-opacity=".7"/><circle cx="1384.3" cy="265" r="3.2" fill-opacity=".35"/><circle cx="1419" cy="270" r="3.2" fill-opacity=".35"/>
<circle cx="143.3" cy="509.3" r="3.2" fill-opacity=".75"/><circle cx="139.3" cy="526" r="3.2" fill-opacity=".75"/><circle cx="155.7" cy="532.7" r="3.2" fill-opacity=".8"/><circle cx="134" cy="537.3" r="3.2" fill-opacity=".6"/><circle cx="168.3" cy="548.3" r="3.2" fill-opacity=".8"/><circle cx="133.3" cy="557.3" r="3.2" fill-opacity=".5"/><circle cx="155" cy="565.7" r="3.2" fill-opacity=".6"/><circle cx="124.3" cy="590" r="3.2" fill-opacity=".3"/><circle cx="139.3" cy="590.7" r="3.2" fill-opacity=".55"/><circle cx="190" cy="581.7" r="3.2" fill-opacity=".7"/><circle cx="169.3" cy="612.3" r="3.2" fill-opacity=".65"/><circle cx="180.3" cy="612.3" r="3.2" fill-opacity=".5"/><circle cx="112.7" cy="622.7" r="3.2" fill-opacity=".7"/><circle cx="159.3" cy="648.3" r="3.2" fill-opacity=".9"/><circle cx="115.7" cy="683.3" r="3.2" fill-opacity=".5"/><circle cx="116.7" cy="706.7" r="3.2" fill-opacity="1"/>
<circle cx="462.7" cy="520" r="3.2" fill-opacity=".8"/><circle cx="453.3" cy="532.7" r="3.2" fill-opacity=".8"/><circle cx="461" cy="540.7" r="3.2" fill-opacity=".8"/><circle cx="446.7" cy="549.3" r="3.2" fill-opacity=".6"/><circle cx="470" cy="556" r="3.2" fill-opacity=".8"/><circle cx="461" cy="570" r="3.2" fill-opacity=".5"/><circle cx="436" cy="589" r="3.2" fill-opacity=".45"/><circle cx="445" cy="598.3" r="3.2" fill-opacity=".5"/><circle cx="479" cy="597.3" r="3.2" fill-opacity=".7"/><circle cx="476" cy="606.7" r="3.2" fill-opacity=".5"/><circle cx="446.7" cy="608.3" r="3.2" fill-opacity="1"/><circle cx="465" cy="621" r="3.2" fill-opacity=".8"/><circle cx="424.3" cy="644.3" r="3.2" fill-opacity=".6"/><circle cx="429.3" cy="644.3" r="3.2" fill-opacity=".8"/><circle cx="426" cy="705.7" r="3.2" fill-opacity=".6"/>
<circle cx="768.3" cy="538.3" r="3.2" fill-opacity="1"/><circle cx="765.7" cy="548.3" r="3.2" fill-opacity="1"/><circle cx="764.3" cy="555.7" r="3.2" fill-opacity=".8"/><circle cx="773.3" cy="552.7" r="3.2" fill-opacity=".9"/><circle cx="782.3" cy="563.3" r="3.2" fill-opacity=".9"/><circle cx="761.7" cy="575" r="3.2" fill-opacity=".6"/><circle cx="776" cy="575" r="3.2" fill-opacity=".65"/><circle cx="793.3" cy="590.7" r="3.2" fill-opacity=".75"/><circle cx="764.3" cy="597.3" r="3.2" fill-opacity=".7"/><circle cx="759.3" cy="601.3" r="3.2" fill-opacity=".45"/><circle cx="783.3" cy="607.3" r="3.2" fill-opacity=".7"/><circle cx="788.3" cy="619" r="3.2" fill-opacity=".6"/><circle cx="766.7" cy="644.3" r="3.2" fill-opacity=".55"/><circle cx="779.3" cy="657.7" r="3.2" fill-opacity=".7"/><circle cx="767.3" cy="688.3" r="3.2" fill-opacity=".35"/><circle cx="781.7" cy="695" r="3.2" fill-opacity=".35"/>
<circle cx="1100" cy="519" r="3.2" fill-opacity=".85"/><circle cx="1105" cy="531.7" r="3.2" fill-opacity="1"/><circle cx="1107.3" cy="541.7" r="3.2" fill-opacity=".85"/><circle cx="1092.7" cy="548.3" r="3.2" fill-opacity=".6"/><circle cx="1114.3" cy="569" r="3.2" fill-opacity=".85"/><circle cx="1100" cy="576.7" r="3.2" fill-opacity=".55"/><circle cx="1097.3" cy="593.3" r="3.2" fill-opacity=".6"/><circle cx="1086.7" cy="600" r="3.2" fill-opacity=".35"/><circle cx="1114" cy="598.3" r="3.2" fill-opacity=".6"/><circle cx="1115.7" cy="615.7" r="3.2" fill-opacity=".65"/><circle cx="1086.7" cy="633.3" r="3.2" fill-opacity=".6"/><circle cx="1099.3" cy="633.3" r="3.2" fill-opacity=".85"/><circle cx="1095.7" cy="643.3" r="3.2" fill-opacity=".6"/><circle cx="1108.3" cy="640" r="3.2" fill-opacity=".7"/><circle cx="1076.7" cy="680.7" r="3.2" fill-opacity=".75"/><circle cx="1096.7" cy="712.7" r="3.2" fill-opacity=".7"/>
<circle cx="1413.3" cy="537.3" r="3.2" fill-opacity="1"/><circle cx="1413.3" cy="549.3" r="3.2" fill-opacity="1"/><circle cx="1417.7" cy="551.7" r="3.2" fill-opacity="1"/><circle cx="1409" cy="555" r="3.2" fill-opacity=".8"/><circle cx="1427.3" cy="562.7" r="3.2" fill-opacity="1"/><circle cx="1392.3" cy="576.7" r="3.2" fill-opacity=".75"/><circle cx="1419" cy="574.3" r="3.2" fill-opacity=".8"/><circle cx="1398.3" cy="593.3" r="3.2" fill-opacity="1"/><circle cx="1407.7" cy="597.3" r="3.2" fill-opacity=".9"/><circle cx="1438.3" cy="591" r="3.2" fill-opacity=".8"/><circle cx="1426.7" cy="605.7" r="3.2" fill-opacity=".85"/><circle cx="1439.3" cy="620" r="3.2" fill-opacity="1"/><circle cx="1404.3" cy="647.3" r="3.2" fill-opacity=".6"/><circle cx="1426" cy="646" r="3.2" fill-opacity=".7"/><circle cx="1414.3" cy="665.7" r="3.2" fill-opacity=".35"/><circle cx="1426.7" cy="680.7" r="3.2" fill-opacity=".35"/>
</g>
</svg>
</body>
</html>
